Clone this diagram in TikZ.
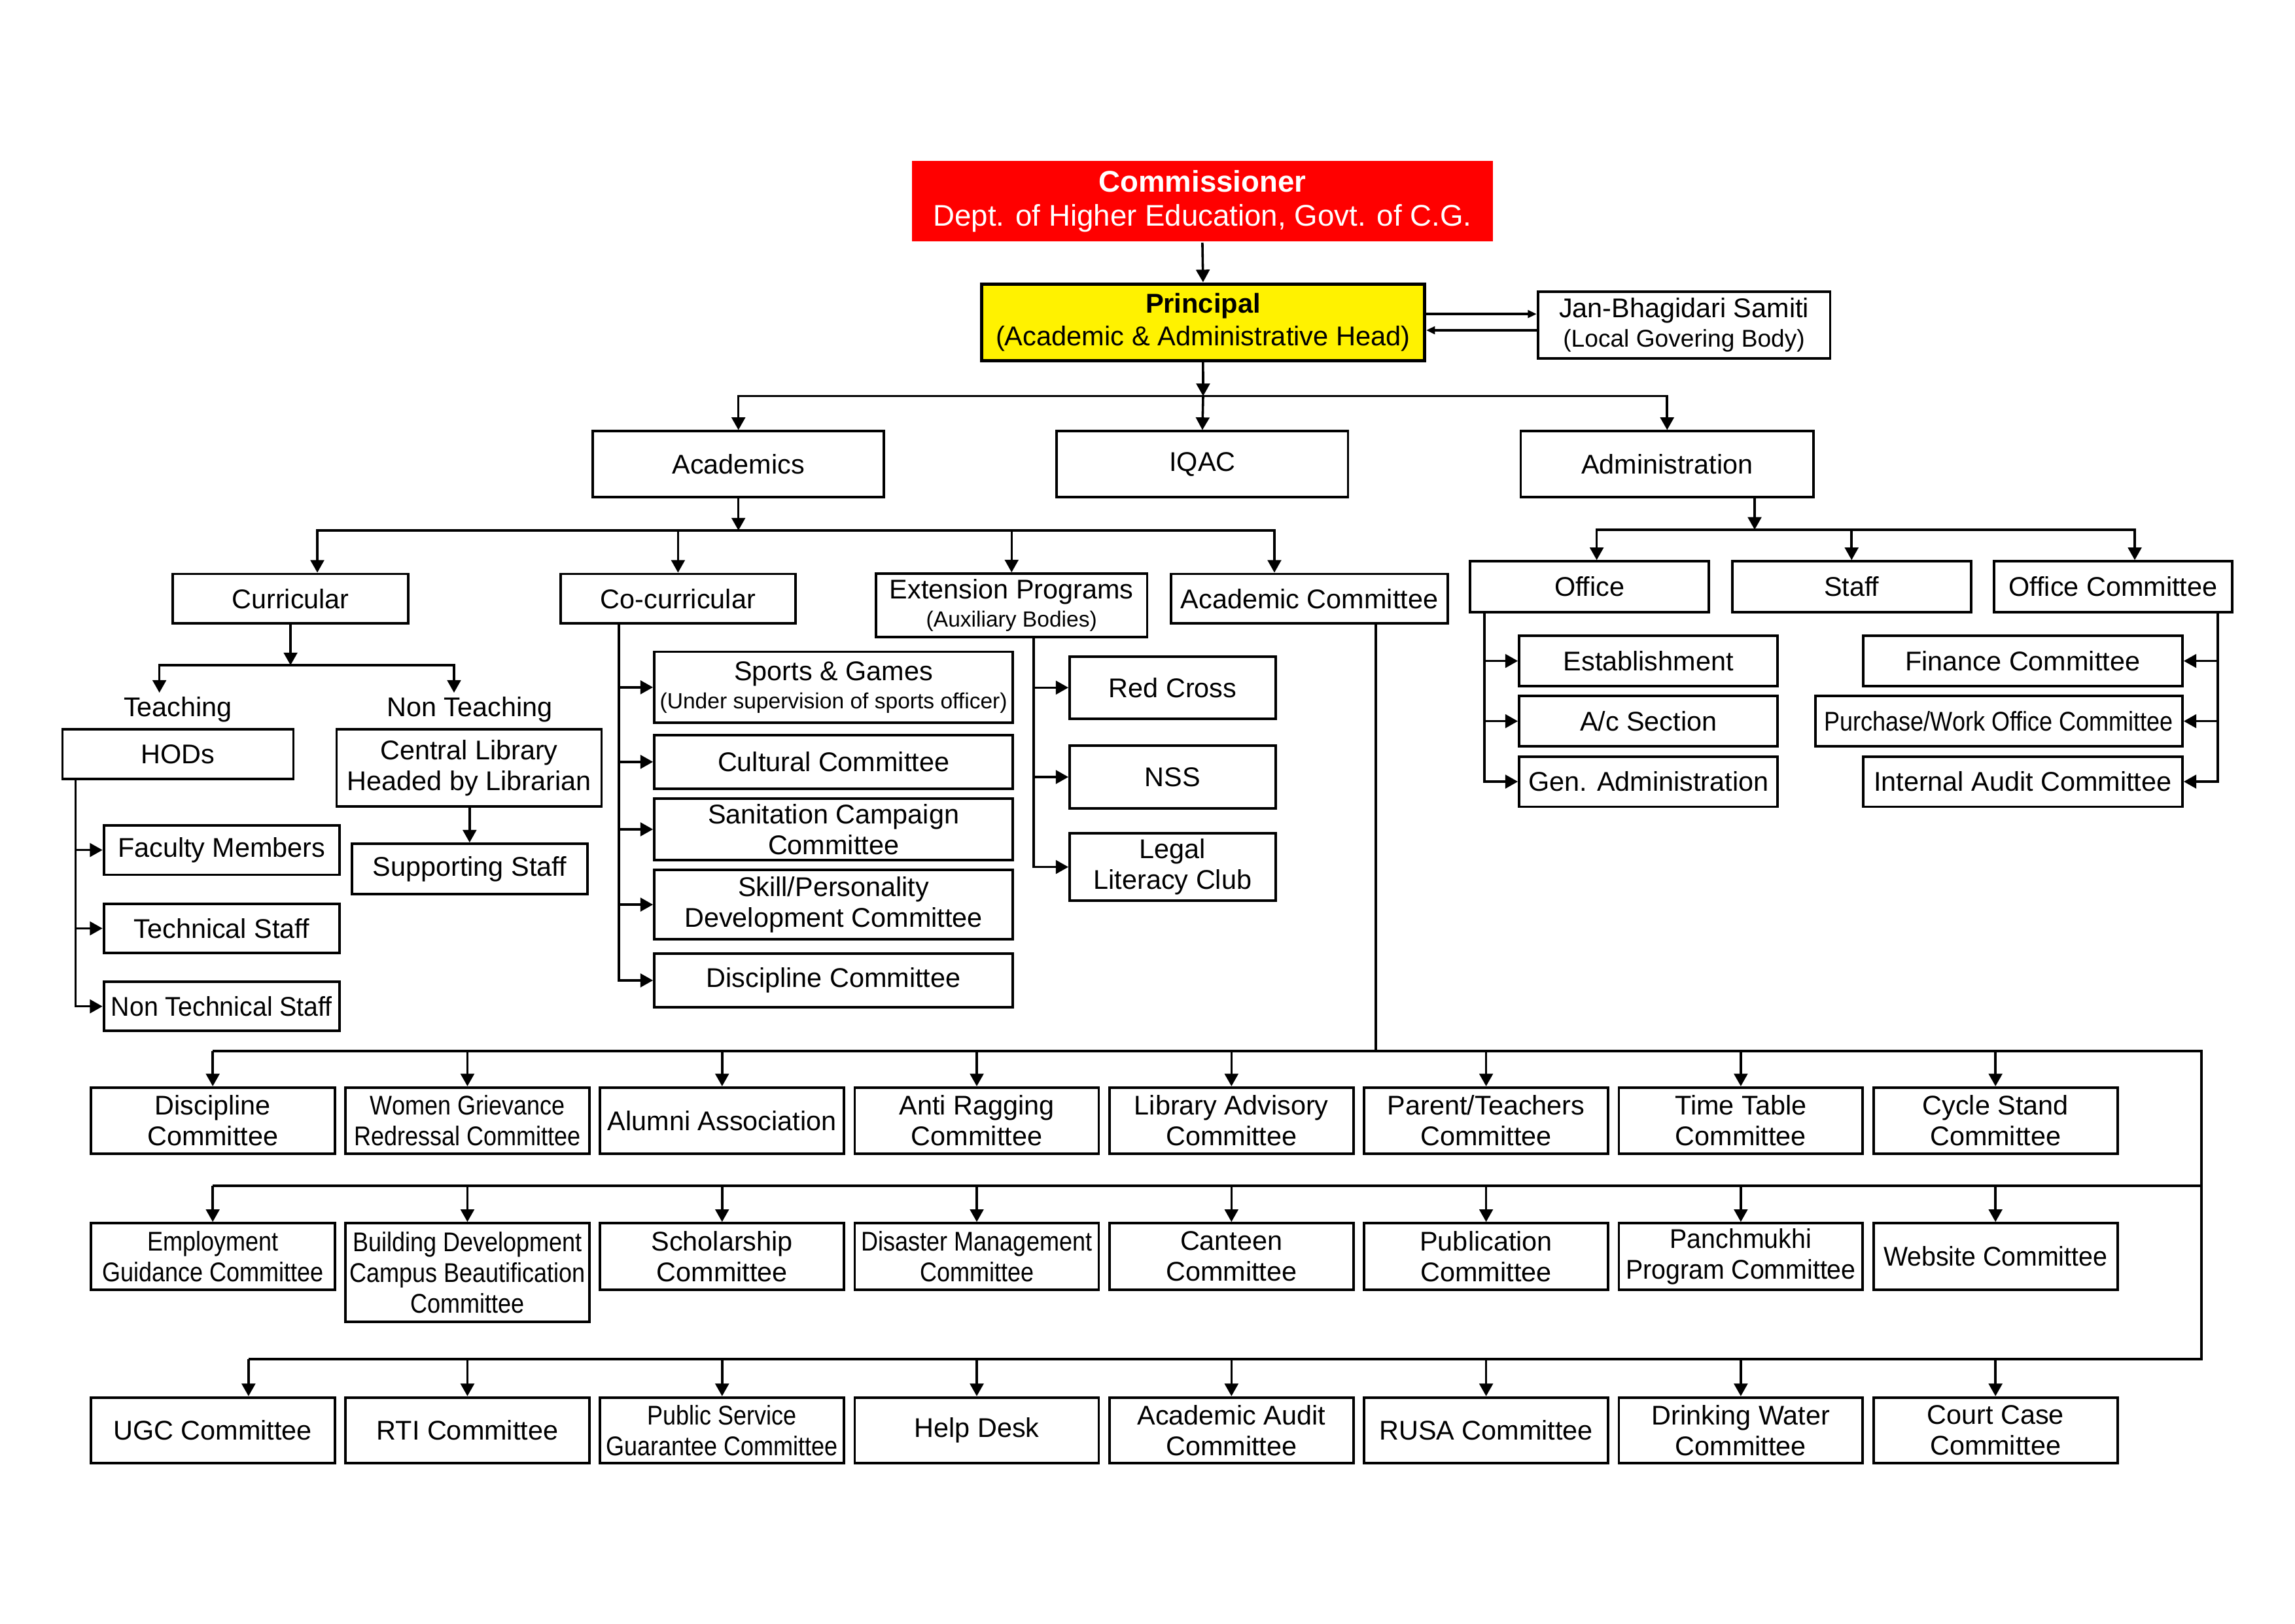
\documentclass[tikz,border=0pt]{standalone}
\usepackage{fontspec}
\setmainfont{Liberation Sans}
\newfontfamily\narf[FakeStretch=0.87]{Liberation Sans}
\newfontfamily\semif[FakeStretch=0.95]{Liberation Sans}
\usetikzlibrary{arrows.meta}
\tikzset{
  box/.style={draw, line width=0.85pt, inner sep=0pt, align=center,
    font=\fontsize{9.25}{10.5}\selectfont},
  narrowtxt/.style={font=\narf\fontsize{9.25}{10.5}\selectfont},
  semitxt/.style={font=\semif\fontsize{9.25}{10.5}\selectfont},
  conn/.style={line width=0.8pt},
  arr/.style={conn, -{Triangle[length=4.3pt,width=4.6pt]}},
  sarr/.style={conn, -{Triangle[length=3pt,width=2.6pt]}},
  lbl/.style={inner sep=0pt, font=\fontsize{9.25}{10.5}\selectfont},
}
\newcommand\bx[7][]{\node[box,minimum width={(#5-#3)*0.5pt},minimum height={(#6-#4)*0.5pt},#1] (#2) at ({(#3+#5)/2},{(#4+#6)/2}) {#7};}
\begin{document}
\begin{tikzpicture}[x=0.5pt,y=-0.5pt]
\useasboundingbox (0,0) rectangle (1568,1109.4);

% top
\bx[fill=red,draw=none,text=white,font=\fontsize{10.2}{11.5}\selectfont]{comm}{623}{110}{1020}{165}{\textbf{Commissioner}\\Dept. of Higher Education, Govt. of C.G.}
\bx[fill=yellow,line width=1.1pt,font=\fontsize{9.3}{11}\selectfont]{prin}{670.6}{194}{973.3}{246.5}{\textbf{Principal}\\(Academic \& Administrative Head)}
\bx[font=\fontsize{9.25}{10}\selectfont]{jan}{1050.7}{199.2}{1250.4}{244.8}{Jan-Bhagidari Samiti\\{\fontsize{8.3}{10}\selectfont (Local Govering Body)}}

\bx{acad}{405}{294.7}{604}{339.7}{Academics}
\bx{iqac}{722}{294.7}{921}{339.7}{IQAC}
\bx{adm}{1039}{294.7}{1239}{339.7}{Administration}

% academics branch
\bx{cur}{118}{392.2}{279}{426}{Curricular}
\bx{cocur}{383}{392.2}{543.5}{426}{Co-curricular}
\bx[font=\fontsize{9.25}{9.6}\selectfont]{ext}{598.5}{392}{783.8}{435.4}{Extension Programs\\{\fontsize{7.5}{9}\selectfont (Auxiliary Bodies)}}
\bx{acom}{800}{392.2}{989.2}{426}{Academic Committee}

\node[lbl] (tl) at (121.6,485) {Teaching};
\node[lbl] (ntl) at (321,485) {Non Teaching};

\bx{hods}{42.7}{498.4}{200.5}{532.4}{HODs}
\bx{clib}{230}{498.4}{411}{551}{Central Library\\Headed by Librarian}
\bx{fac}{70.9}{564}{232}{597.8}{Faculty Members}
\bx{tech}{70.9}{617.6}{232}{651.3}{Technical Staff}
\bx[semitxt]{ntech}{70.9}{671}{232}{704.5}{Non Technical Staff}
\bx{sup}{240.3}{576.6}{401.4}{611}{Supporting Staff}

\bx[font=\fontsize{9.25}{9.6}\selectfont]{sports}{447}{445.4}{692}{494}{Sports \& Games\\{\fontsize{7.5}{9}\selectfont (Under supervision of sports officer)}}
\bx{cult}{447}{502.3}{692}{539}{Cultural Committee}
\bx{sanit}{447}{545.7}{692}{587.8}{Sanitation Campaign\\Committee}
\bx{skill}{447}{594.5}{692}{641.9}{Skill/Personality\\Development Committee}
\bx{disc}{447}{651.6}{692}{688.4}{Discipline Committee}

\bx{red}{730.8}{448.6}{871.6}{491.2}{Red Cross}
\bx{nss}{730.8}{509.7}{871.6}{552.3}{NSS}
\bx{legal}{730.8}{569.6}{871.6}{615.4}{Legal\\Literacy Club}

% administration branch
\bx{office}{1004.5}{383.6}{1167.5}{418.2}{Office}
\bx{staff}{1183.5}{383.6}{1346.6}{418.2}{Staff}
\bx{ocom}{1362.2}{383.6}{1525.1}{418.2}{Office Committee}
\bx{estab}{1037.9}{434.6}{1214.6}{468.8}{Establishment}
\bx{acsec}{1037.9}{475.7}{1214.6}{510}{A/c Section}
\bx{gen}{1037.9}{517}{1214.6}{551.3}{Gen. Administration}
\bx{fin}{1272.8}{434.6}{1491.1}{468.8}{Finance Committee}
\bx[narrowtxt]{purch}{1240.2}{475.7}{1491.1}{510}{Purchase/Work Office Committee}
\bx{audit}{1272.8}{517}{1491.1}{551.3}{Internal Audit Committee}

% committee rows
\bx{r1a}{62}{743.2}{228.7}{788.6}{Discipline\\Committee}
\bx[narrowtxt]{r1b}{236}{743.2}{402.7}{788.6}{Women Grievance\\Redressal Committee}
\bx{r1c}{410}{743.2}{576.7}{788.6}{Alumni Association}
\bx{r1d}{584}{743.2}{750.7}{788.6}{Anti Ragging\\Committee}
\bx{r1e}{758}{743.2}{924.7}{788.6}{Library Advisory\\Committee}
\bx{r1f}{932}{743.2}{1098.7}{788.6}{Parent/Teachers\\Committee}
\bx{r1g}{1106}{743.2}{1272.7}{788.6}{Time Table\\Committee}
\bx{r1h}{1280}{743.2}{1446.7}{788.6}{Cycle Stand\\Committee}

\bx[narrowtxt]{r2a}{62}{835.9}{228.7}{881.3}{Employment\\Guidance Committee}
\bx[narrowtxt]{r2b}{236}{835.9}{402.7}{903.2}{Building Development\\Campus Beautification\\Committee}
\bx{r2c}{410}{835.9}{576.7}{881.3}{Scholarship\\Committee}
\bx[narrowtxt]{r2d}{584}{835.9}{750.7}{881.3}{Disaster Management\\Committee}
\bx{r2e}{758}{835.9}{924.7}{881.3}{Canteen\\Committee}
\bx{r2f}{932}{835.9}{1098.7}{881.3}{Publication\\Committee}
\bx[semitxt]{r2g}{1106}{835.9}{1272.7}{881.3}{Panchmukhi\\Program Committee}
\bx[semitxt]{r2h}{1280}{835.9}{1446.7}{881.3}{Website Committee}

\bx{r3a}{62}{955}{228.7}{1000}{UGC Committee}
\bx{r3b}{236}{955}{402.7}{1000}{RTI Committee}
\bx[narrowtxt]{r3c}{410}{955}{576.7}{1000}{Public Service\\Guarantee Committee}
\bx{r3d}{584}{955}{750.7}{1000}{Help Desk}
\bx{r3e}{758}{955}{924.7}{1000}{Academic Audit\\Committee}
\bx{r3f}{932}{955}{1098.7}{1000}{RUSA Committee}
\bx{r3g}{1106}{955}{1272.7}{1000}{Drinking Water\\Committee}
\bx{r3h}{1280}{955}{1446.7}{1000}{Court Case\\Committee}

% ---- connectors ----
\draw[arr] (comm.south) -- (prin.north);
\draw[sarr] (prin.east |- 0,214.6) -- (jan.west |- 0,214.6);
\draw[sarr] (jan.west |- 0,225.7) -- (prin.east |- 0,225.7);

\coordinate (pj) at (822,270.7);
\draw[arr] (prin.south) -- (pj);
\draw[arr] (pj) -| (acad.north);
\draw[arr] (pj) -| (adm.north);
\draw[arr] (pj) -- (iqac.north);

\coordinate (acj) at (504.5,362.5);
\draw[arr] (acad.south) -- (acj);
\draw[arr] (acj) -| (cur.north -| 216.8,0);
\draw[arr] (acj) -| (acom.north -| 870.7,0);
\draw[arr] (acj -| cocur.north) -- (cocur.north);
\draw[arr] (acj -| ext.north) -- (ext.north);

\coordinate (cj) at (198.5,454.6);
\coordinate (ta) at (108.9,473.4);
\coordinate (nta) at (310.2,473.4);
\draw[arr] (cur.south) -- (cj);
\draw[arr] (cj) -| (ta);
\draw[arr] (cj) -| (nta);

\draw[arr] (hods.south -| 51.7,0) |- (fac.west);
\draw[arr] (hods.south -| 51.7,0) |- (tech.west);
\draw[arr] (hods.south -| 51.7,0) |- (ntech.west);
\draw[arr] (clib.south -| sup.north) -- (sup.north);

\draw[arr] (cocur.south -| 422.9,0) |- (sports.west);
\draw[arr] (cocur.south -| 422.9,0) |- (cult.west);
\draw[arr] (cocur.south -| 422.9,0) |- (sanit.west);
\draw[arr] (cocur.south -| 422.9,0) |- (skill.west);
\draw[arr] (cocur.south -| 422.9,0) |- (disc.west);

\draw[arr] (ext.south -| 706.2,0) |- (red.west);
\draw[arr] (ext.south -| 706.2,0) |- (nss.west);
\draw[arr] (ext.south -| 706.2,0) |- (legal.west);

\coordinate (admj) at (1198.8,362);
\draw[arr] (adm.south -| admj) -- (admj);
\draw[arr] (admj) -| (office.north -| 1090.9,0);
\draw[arr] (admj) -| (ocom.north -| 1458.5,0);
\draw[arr] (admj -| staff.north) -- (staff.north);

\draw[arr] (office.south -| 1014.1,0) |- (estab.west);
\draw[arr] (office.south -| 1014.1,0) |- (acsec.west);
\draw[arr] (office.south -| 1014.1,0) |- (gen.west);
\draw[arr] (ocom.south -| 1515.3,0) |- (fin.east);
\draw[arr] (ocom.south -| 1515.3,0) |- (purch.east);
\draw[arr] (ocom.south -| 1515.3,0) |- (audit.east);

% bottom buses
\coordinate (aj) at (939.9,718.4);
\coordinate (ne) at (1504,718.4);
\coordinate (me) at (1504,810.4);
\coordinate (se) at (1504,928.7);
\coordinate (ugc) at (169.8,928.7);
\draw[conn] (acom.south -| aj) -- (aj);
\draw[conn] (r1a.north |- ne) -- (ne) -- (se) -- (ugc);
\draw[conn] (me) -- (r2a.north |- me);
\foreach \n in {r1a,r1b,r1c,r1d,r1e,r1f,r1g,r1h}
  \draw[arr] (\n.north |- ne) -- (\n.north);
\foreach \n in {r2a,r2b,r2c,r2d,r2e,r2f,r2g,r2h}
  \draw[arr] (\n.north |- me) -- (\n.north);
\draw[arr] (ugc) -- (r3a.north -| ugc);
\foreach \n in {r3b,r3c,r3d,r3e,r3f,r3g,r3h}
  \draw[arr] (\n.north |- se) -- (\n.north);
\end{tikzpicture}
\end{document}
